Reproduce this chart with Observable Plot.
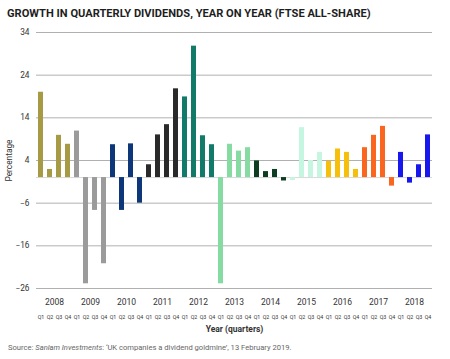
<!DOCTYPE html>
<html><head><meta charset="utf-8">
<script src="https://cdn.jsdelivr.net/npm/d3@7"></script>
<script src="https://cdn.jsdelivr.net/npm/@observablehq/plot@0.6"></script>
<style>
body{margin:0;background:#fff;width:450px;height:359px;position:relative;overflow:hidden;font-family:Roboto, "Liberation Sans", sans-serif;}
#title{position:absolute;left:7px;top:7px;font-weight:700;font-size:11.1px;color:#1e1e1e;white-space:nowrap;letter-spacing:0px;}
#chart{position:absolute;left:0;top:24px;}
#source{position:absolute;left:8px;top:343px;font-size:7.6px;color:#666;white-space:nowrap;}
</style></head><body>
<div id="title">GROWTH IN QUARTERLY DIVIDENDS, YEAR ON YEAR (FTSE ALL-SHARE)</div>
<div id="chart"></div>
<div id="source">Source: <i>Sanlam Investments</i>: ‘UK companies a dividend goldmine’, 13 February 2019.</div>
<script>
const years = [2008, 2009, 2010, 2011, 2012, 2013, 2014, 2015, 2016, 2017, 2018];
const quarters = ["Q1", "Q2", "Q3", "Q4"];
const values = [
  20.0, 1.9, 9.9, 7.8,      // 2008
  10.9, -24.9, -7.7, -20.2, // 2009
  7.7, -7.7, 7.9, -6.0,     // 2010
  3.0, 10.0, 12.4, 20.8,    // 2011
  18.9, 30.8, 9.8, 7.7,     // 2012
  -24.9, 7.8, 6.2, 7.0,     // 2013
  3.9, 1.4, 1.9, -0.8,      // 2014
  -0.7, 11.7, 4.0, 5.9,     // 2015
  3.8, 6.7, 5.9, 1.9,       // 2016
  7.0, 9.9, 12.0, -2.0,     // 2017
  5.9, -1.3, 3.0, 10.0      // 2018
];
const yearColors = ["#a69a44", "#9b9b9b", "#0d3778", "#2a2a2a", "#127a69", "#86dba3", "#0f3d22", "#c6f5e1", "#f6bf0c", "#fa6520", "#1717ee"];
const yTicks = [-26, -16, -6, 4, 14, 24, 34];

const data = values.map((v, i) => ({i, year: String(years[Math.floor(i / 4)]), q: quarters[i % 4], value: v}));
const idx = d3.range(values.length);
const step = 396 / (values.length - 0.45);

const chart = Plot.plot({
  width: 450,
  height: 312,
  marginTop: 8,
  marginBottom: 48,
  marginLeft: 36,
  marginRight: 18,
  style: {fontFamily: "Roboto, 'Liberation Sans', sans-serif", color: "#333", background: "#fff"},
  x: {type: "band", domain: idx, paddingInner: 0.45, paddingOuter: 0, axis: null},
  y: {domain: [-26, 34], axis: null},
  color: {domain: years.map(String), range: yearColors},
  marks: [
    Plot.ruleY(yTicks, {stroke: "#b0b0b0", strokeWidth: 1}),
    Plot.ruleY([0], {stroke: "#d8d8d8", strokeWidth: 1}),
    Plot.barY(data, {x: "i", y: "value", fill: "year"}),
    Plot.axisY(yTicks, {tickSize: 0, tickPadding: 7, fontSize: 8.3, label: "Percentage", labelAnchor: "center", labelArrow: "none", labelOffset: 30}),
    Plot.axisX(idx, {tickFormat: i => quarters[i % 4], tickSize: 0, tickPadding: 27, fontSize: 5.3, label: null}),
    Plot.axisX(d3.range(1, values.length, 4), {tickFormat: i => String(years[Math.floor(i / 4)]), dx: step / 2, tickSize: 0, tickPadding: 10.5, fontSize: 8.5, label: null}),
    Plot.text(["Year (quarters)"], {frameAnchor: "bottom", dy: 43, fontWeight: 700, fontSize: 8.5, fill: "#333"})
  ]
});
document.getElementById("chart").appendChild(chart);
</script>
</body></html>
